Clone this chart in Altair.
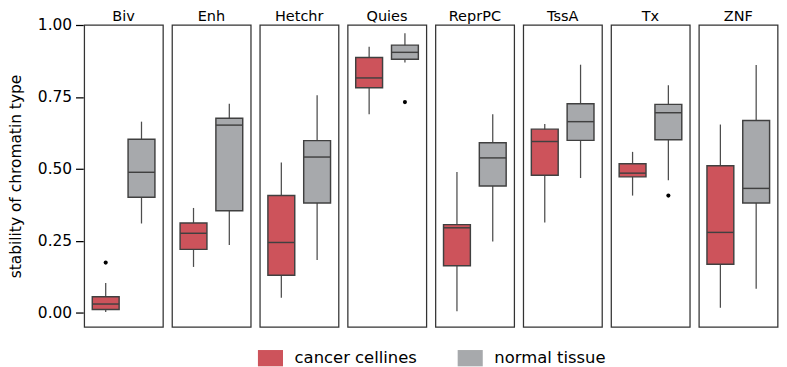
import altair as alt
import pandas as pd

states = ["Biv", "Enh", "Hetchr", "Quies", "ReprPC", "TssA", "Tx", "ZNF"]
groups = ["cancer cellines", "normal tissue"]

cancer_lo = [0.002, 0.159, 0.052, 0.690, 0.005, 0.313, 0.407, 0.017]
cancer_q1 = [0.011, 0.220, 0.130, 0.782, 0.163, 0.478, 0.472, 0.168]
cancer_med = [0.030, 0.276, 0.244, 0.816, 0.295, 0.595, 0.485, 0.279]
cancer_q3 = [0.055, 0.312, 0.407, 0.887, 0.306, 0.638, 0.518, 0.511]
cancer_hi = [0.103, 0.364, 0.522, 0.924, 0.489, 0.656, 0.559, 0.654]

normal_lo = [0.310, 0.235, 0.183, 0.870, 0.247, 0.468, 0.460, 0.083]
normal_q1 = [0.401, 0.354, 0.381, 0.881, 0.440, 0.599, 0.601, 0.381]
normal_med = [0.488, 0.652, 0.541, 0.905, 0.538, 0.664, 0.695, 0.432]
normal_q3 = [0.603, 0.676, 0.598, 0.930, 0.591, 0.726, 0.724, 0.668]
normal_hi = [0.664, 0.726, 0.756, 0.971, 0.690, 0.862, 0.791, 0.861]

outlier_state = ["Biv", "Quies", "Tx"]
outlier_group = ["cancer cellines", "normal tissue", "normal tissue"]
outlier_value = [0.174, 0.732, 0.407]

colors = ["#CD535B", "#A7A9AC"]

rows = []
stats = {
    "cancer cellines": (cancer_lo, cancer_q1, cancer_med, cancer_q3, cancer_hi),
    "normal tissue": (normal_lo, normal_q1, normal_med, normal_q3, normal_hi),
}
for i, s in enumerate(states):
    for gi, g in enumerate(groups):
        lo, q1, med, q3, hi = stats[g]
        rows.append(dict(kind="box", state=s, group=g, idx=gi + 1,
                         lo=lo[i], q1=q1[i], med=med[i], q3=q3[i], hi=hi[i]))
for s, g, v in zip(outlier_state, outlier_group, outlier_value):
    rows.append(dict(kind="out", state=s, group=g, idx=groups.index(g) + 1, val=v))
df = pd.DataFrame(rows)

FS = 16
x_scale = alt.Scale(domain=[0.4, 2.6], nice=False, zero=False)
y_scale = alt.Scale(domain=[-0.05, 1.0], nice=False, zero=False)
y_axis = alt.Axis(values=[0, 0.25, 0.5, 0.75, 1.0], format=".2f", grid=False,
                  domain=False, tickColor="black", tickSize=8, tickWidth=1.3,
                  labelPadding=4, labelFontSize=FS, labelColor="black",
                  titleFontSize=FS, titleFontWeight="normal", titleColor="black",
                  titlePadding=14)
ytitle = "stability of chromatin type"

base = alt.Chart().transform_filter("datum.kind == 'box'").transform_calculate(
    xl="datum.idx - 0.375", xr="datum.idx + 0.375")

whisk = base.mark_rule(color="#4d4d4d", strokeWidth=1.3).encode(
    x=alt.X("idx:Q", scale=x_scale, axis=None),
    y=alt.Y("lo:Q", scale=y_scale, axis=y_axis, title=ytitle),
    y2="hi:Q",
)

box = base.mark_bar(stroke="#404040", strokeWidth=1.5).encode(
    x=alt.X("xl:Q", scale=x_scale, axis=None),
    x2="xr:Q",
    y=alt.Y("q1:Q", scale=y_scale, axis=y_axis, title=ytitle),
    y2="q3:Q",
    fill=alt.Fill("group:N", scale=alt.Scale(domain=groups, range=colors),
                  legend=alt.Legend(title=None, orient="none", direction="horizontal",
                                    legendX=180, legendY=332,
                                    symbolType="M-1,-0.65H1V0.65H-1Z", symbolSize=676,
                                    symbolStrokeWidth=0, labelFontSize=17, labelColor="black",
                                    labelOffset=12, columnPadding=42)),
)

med = base.mark_rule(color="#404040", strokeWidth=1.5).encode(
    x=alt.X("xl:Q", scale=x_scale, axis=None),
    x2="xr:Q",
    y=alt.Y("med:Q", scale=y_scale, axis=y_axis, title=ytitle),
)

pts = alt.Chart().transform_filter("datum.kind == 'out'").mark_point(
    filled=True, color="black", size=18, opacity=1).encode(
    x=alt.X("idx:Q", scale=x_scale, axis=None),
    y=alt.Y("val:Q", scale=y_scale, axis=y_axis, title=ytitle),
)

layered = alt.layer(whisk, box, med, pts, data=df).properties(width=81.6, height=313)

chart = layered.facet(
    column=alt.Column("state:N", sort=states,
                      header=alt.Header(title=None, labelFontSize=15, labelPadding=0,
                                        labelColor="black", labelOrient="top")),
    spacing={"row": 0, "column": 7},
).properties(
    padding={"left": 0, "top": -5, "right": 0, "bottom": 0}
).configure(font="DejaVu Sans").configure_view(
    stroke="#333333", strokeWidth=1.3
)

chart.save("out.html", embed_options={"renderer": "svg", "actions": False})
